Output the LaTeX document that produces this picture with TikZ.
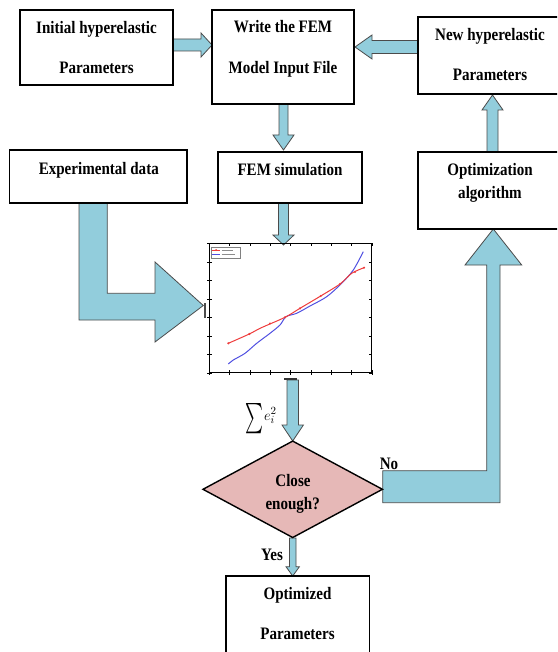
\documentclass[tikz,border=0pt]{standalone}
\usepackage{fontspec}
\setmainfont{Liberation Serif}[FakeStretch=0.86]
\usetikzlibrary{shapes.geometric}
\definecolor{arrowblue}{RGB}{146,205,220}
\definecolor{arrowedge}{RGB}{75,75,75}
\definecolor{diapink}{RGB}{230,184,183}
\definecolor{redline}{RGB}{238,60,60}
\definecolor{blueline}{RGB}{80,80,225}
\begin{document}
\begin{tikzpicture}[x=1pt,y=-1pt,
  box/.style={draw=black, line width=1.6pt, fill=white, inner sep=0pt},
  lbl/.style={font=\fontsize{17.5}{20}\selectfont\bfseries, inner sep=0pt, anchor=base},
  fatarrow/.style={fill=arrowblue, draw=arrowedge, line width=0.8pt, line join=miter},
  tick/.style={line width=0.4pt, black},
]
\useasboundingbox (0,0) rectangle (557,652);
\begin{scope}
\clip (0,0) rectangle (557,652);

% ---------- block arrows ----------
% Initial -> Write
\draw[fatarrow] (173,39) -- (201,39) -- (201,33) -- (212,45) -- (201,57) -- (201,51) -- (173,51) -- cycle;
% New -> Write
\draw[fatarrow] (418,40.5) -- (372,40.5) -- (372,35) -- (355,47) -- (372,59) -- (372,53.5) -- (418,53.5) -- cycle;
% Write -> FEM simulation
\draw[fatarrow] (279,104) -- (279,135) -- (273,135) -- (283.5,150) -- (294,135) -- (288,135) -- (288,104) -- cycle;
% FEM simulation -> plot
\draw[fatarrow] (278.5,203) -- (278.5,235) -- (273,235) -- (283.5,245) -- (294,235) -- (288.5,235) -- (288.5,203) -- cycle;
% Optimization -> New
\draw[fatarrow] (487,152) -- (487,110) -- (482,110) -- (492.5,95) -- (503,110) -- (498,110) -- (498,152) -- cycle;
% Experimental -> plot (L shaped)
\draw[fatarrow] (79,203) -- (107.3,203) -- (107.3,293.3) -- (155,293.3) -- (155,262) -- (203.3,305.5) -- (155,342) -- (155,320) -- (79,320) -- cycle;
% No -> Optimization
\draw[fatarrow] (382.7,470.7) -- (486.7,470.7) -- (486.7,265) -- (465,265) -- (493.3,229) -- (521.7,265) -- (500,265) -- (500,502.7) -- (382.7,502.7) -- cycle;
% plot -> decision
\draw[fatarrow] (287,380) -- (287,425) -- (282,425) -- (292.7,441) -- (303.4,425) -- (298.4,425) -- (298.4,380) -- cycle;
% Yes -> Optimized
\draw[fatarrow] (289.5,538) -- (289.5,566.7) -- (286,566.7) -- (292.7,576) -- (299.4,566.7) -- (296,566.7) -- (296,538) -- cycle;

% ---------- boxes ----------
\node[box, minimum width=153pt, minimum height=75pt] (init) at (96.5,47.5) {};
\node[box, minimum width=142pt, minimum height=94pt] (write) at (283,57) {};
\node[box, minimum width=144pt, minimum height=77pt] (newp) at (490,55.5) {};
\node[box, minimum width=177.7pt, minimum height=53pt] (exp) at (98.2,176.5) {};
\node[box, minimum width=144pt, minimum height=51pt] (fem) at (290,177.5) {};
\node[box, minimum width=144pt, minimum height=77pt] (optim) at (490,190.5) {};
\node[box, minimum width=143.3pt, minimum height=124pt] (optd) at (297.7,638) {};
\node[draw=black, line width=1.4pt, fill=diapink, diamond, inner sep=0pt,
      minimum width=180pt, minimum height=97pt] (dec) at (292.7,489.3) {};

% ---------- labels ----------
\node[lbl] (t1) at (96.5,34) {Initial hyperelastic};
\node[lbl] (t2) at (96.5,74) {Parameters};
\node[lbl] (t3) at (283,33) {Write the FEM};
\node[lbl] (t4) at (283,74) {Model Input File};
\node[lbl] (t5) at (490,41) {New hyperelastic};
\node[lbl] (t6) at (490,81) {Parameters};
\node[lbl] (t7) at (98.8,175) {Experimental data};
\node[lbl] (t8) at (290,176) {FEM simulation};
\node[lbl] (t9) at (490,176) {Optimization};
\node[lbl] (t10) at (490,199) {algorithm};
\node[lbl] (t11) at (293,486) {Close};
\node[lbl] (t12) at (292.7,509) {enough?};
\node[lbl] (t13) at (297.5,599) {Optimized};
\node[lbl] (t14) at (297.5,639) {Parameters};
\node[lbl] (tno) at (389,469) {No};
\node[lbl] (tyes) at (272,560) {Yes};
\node[inner sep=0pt, anchor=base west, font=\fontsize{15}{17}\selectfont] (tsum) at (245,420)
  {\raisebox{-9pt}{\resizebox{18pt}{26pt}{$\sum$}}\kern1pt$e_i^2$};

% ---------- plot ----------
\node[draw=black, line width=1.2pt, minimum width=162.4pt, minimum height=129.4pt, inner sep=0pt] (plot) at (290.5,308) {};
\foreach \k in {0,...,8} {
  \draw[tick] (209.3+\k*20.3,372.7) -- ++(0,-2.5);
  \draw[tick] (209.3+\k*20.3,372.7) -- ++(0,2.5);
  \draw[tick] (209.3+\k*20.3,243.3) -- ++(0,2.5);
}
\foreach \k in {0,...,7} {
  \draw[tick] (209.3,243.3+\k*18.49) -- ++(2.5,0);
  \draw[tick] (209.3,243.3+\k*18.49) -- ++(-2,0);
  \draw[tick] (371.7,243.3+\k*18.49) -- ++(-2.5,0);
}
% axis labels (illegible in the reference)
\draw[line width=1.3pt, black!70] (205,303) -- (205,318);
\draw[line width=1.6pt, black!80] (284,379) -- (297,379);
% legend
\draw[line width=0.3pt, black!50] (210.7,246.7) rectangle (240,258);
\draw[redline, line width=0.8pt] (212,250) -- (220,250);
\fill[redline] (216,250) circle (1pt);
\draw[blueline, line width=0.8pt] (212,254.5) -- (220,254.5);
\draw[black!45, line width=0.6pt] (221.5,250) -- (233,250);
\draw[black!45, line width=0.6pt] (221.5,254.5) -- (235,254.5);
% curves
\draw[blueline, line width=1pt, line join=round] plot[smooth] coordinates {
 (228.3,364) (233.3,360) (245,353.3) (256.7,343.3) (270,333.3) (280,325)
 (286,316.7) (296.7,313.3) (310,306) (326.7,296.7) (341.7,283.3) (353.3,270) (363.3,251.7)};
\draw[redline, line width=1pt, line join=round] plot[smooth] coordinates {
 (228.3,343.3) (249.3,334) (260.7,328) (285,317.3) (300,308.3) (320.7,296)
 (340,284) (351.7,273.3) (364,267.7)};
\foreach \p in {(228.3,343.3),(249.3,334),(270,323.5),(285,317.3),(300,308.3),(320.7,296),(340,284),(355,272),(364,267.7)}
  \fill[redline] \p circle (1.2pt);
\end{scope}
\end{tikzpicture}
\end{document}
